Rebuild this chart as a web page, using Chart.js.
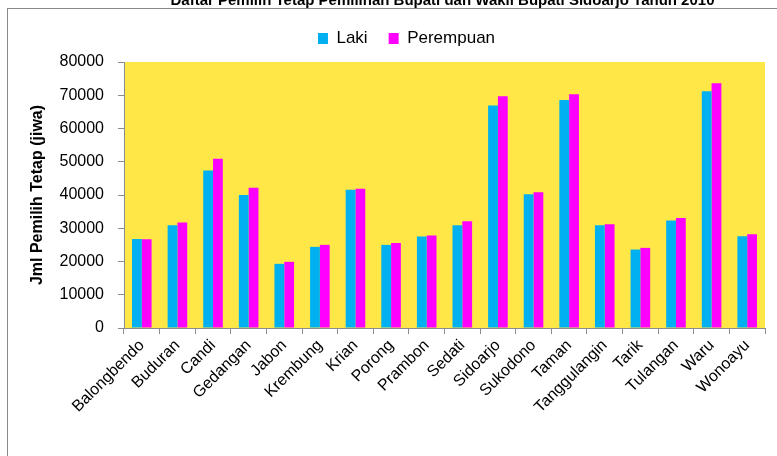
<!DOCTYPE html>
<html>
<head>
<meta charset="utf-8">
<script src="https://cdn.jsdelivr.net/npm/chart.js@4.4.0/dist/chart.umd.min.js"></script>
<style>
html,body{margin:0;padding:0;background:#fff;overflow:hidden;width:777px;height:456px;}
#frame{position:absolute;left:7px;top:8px;width:900px;height:600px;border:1px solid #8a8a8a;box-sizing:border-box;}
#wrap{position:absolute;left:0;top:-10px;width:777px;height:466px;}
</style>
</head>
<body>
<div id="frame"></div>
<div id="wrap"><canvas id="c"></canvas></div>
<script>
const chartTitle = 'Daftar Pemilih Tetap Pemilihan Bupati dan Wakil Bupati Sidoarjo Tahun 2010';
const yAxisTitle = 'Jml Pemilih Tetap (jiwa)';
const seriesNames = ['Laki', 'Perempuan'];
const categories = ['Balongbendo','Buduran','Candi','Gedangan','Jabon','Krembung','Krian','Porong','Prambon','Sedati','Sidoarjo','Sukodono','Taman','Tanggulangin','Tarik','Tulangan','Waru','Wonoayu'];
const laki = [26800, 30900, 47400, 40000, 19300, 24400, 41600, 25000, 27500, 30900, 66900, 40200, 68600, 30900, 23600, 32300, 71200, 27600];
const perempuan = [26700, 31700, 50900, 42200, 19900, 25000, 41900, 25600, 27800, 32100, 69700, 40800, 70300, 31200, 24100, 33100, 73600, 28200];
const yMin = 0, yMax = 80000, yStep = 10000;

const FONT = 'Liberation Sans, Arial, sans-serif';
const AXIS_GREY = '#8c8c8c';

const plotBg = {
  id: 'plotBg',
  beforeDraw(chart) {
    const {ctx, chartArea: a} = chart;
    ctx.save();
    ctx.fillStyle = '#FFE747';
    ctx.fillRect(a.left, a.top, a.right - a.left, a.bottom - a.top);
    ctx.restore();
  }
};
const shiftBlocks = {
  id: 'shiftBlocks',
  afterLayout(chart) {
    if (chart.titleBlock) { chart.titleBlock.left += 56; chart.titleBlock.right += 56; }
    if (chart.legend) {
      chart.legend.left += 20; chart.legend.right += 20;
      chart.legend.top -= 5; chart.legend.bottom -= 5;
    }
  }
};

new Chart(document.getElementById('c'), {
  type: 'bar',
  data: {
    labels: categories,
    datasets: [
      { label: seriesNames[0], data: laki, backgroundColor: '#00B0F0', borderWidth: 0 },
      { label: seriesNames[1], data: perempuan, backgroundColor: '#FF00FF', borderWidth: 0 }
    ]
  },
  options: {
    responsive: true,
    maintainAspectRatio: false,
    animation: false,
    categoryPercentage: 0.55,
    barPercentage: 1.0,
    layout: { padding: { top: 0, left: 8, right: 12, bottom: 8 } },
    plugins: {
      title: {
        display: true,
        text: chartTitle,
        color: '#000',
        font: { family: FONT, size: 15, weight: 'bold' },
        padding: { top: 2, bottom: 4 }
      },
      legend: {
        display: true,
        position: 'top',
        labels: {
          color: '#000',
          font: { family: FONT, size: 17 },
          boxWidth: 10,
          boxHeight: 11,
          padding: 21
        }
      },
      tooltip: { enabled: false }
    },
    scales: {
      x: {
        grid: { display: true, drawOnChartArea: false, drawTicks: true, tickLength: 6, color: AXIS_GREY, offset: true },
        border: { color: AXIS_GREY },
        ticks: { color: '#000', font: { family: FONT, size: 16 }, maxRotation: 45, minRotation: 45, autoSkip: false, padding: 2 },
        afterFit(scale) { scale.height = 120; }
      },
      y: {
        min: yMin, max: yMax,
        grid: { display: true, drawOnChartArea: false, drawTicks: true, tickLength: 6, color: AXIS_GREY },
        border: { color: AXIS_GREY },
        ticks: { stepSize: yStep, color: '#000', font: { family: FONT, size: 16 }, padding: 14, callback: v => String(v) },
        title: { display: true, text: yAxisTitle, color: '#000', font: { family: FONT, size: 16, weight: 'bold' }, padding: { top: 20, bottom: 0 } },
        afterFit(scale) { scale.width = 116; }
      }
    }
  },
  plugins: [plotBg, shiftBlocks]
});
</script>
</body>
</html>
